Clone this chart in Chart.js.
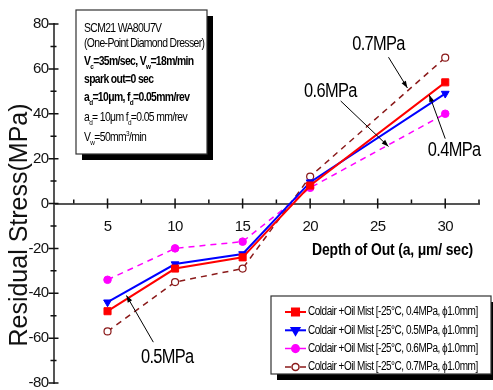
<!DOCTYPE html>
<html><head><meta charset="utf-8">
<script src="https://cdn.jsdelivr.net/npm/chart.js@4.4.1/dist/chart.umd.min.js"></script>
<style>html,body{margin:0;padding:0;background:#fff;overflow:hidden}#wrap{position:relative;width:493px;height:390px}</style>
</head><body><div id="wrap"><canvas id="chart" width="493" height="390"></canvas></div>
<script>
// ---- data ----
const depthOfCut = [5, 10, 15, 20, 30];
const stress04 = [-48, -29, -24, 8, 54];
const stress05 = [-44, -27, -22.5, 9.5, 49];
const stress06 = [-34, -20, -17, 7, 40];
const stress07 = [-57, -35, -29, 12, 65];
const seriesNames = [
  'Coldair +Oil Mist [-25°C, 0.4MPa, ϕ1.0mm]',
  'Coldair +Oil Mist [-25°C, 0.5MPa, ϕ1.0mm]',
  'Coldair +Oil Mist [-25°C, 0.6MPa, ϕ1.0mm]',
  'Coldair +Oil Mist [-25°C, 0.7MPa, ϕ1.0mm]'
];
const xTickValues = [2.5, 5, 7.5, 10, 12.5, 15, 17.5, 20, 22.5, 25, 27.5, 30, 32.5];
const xTickLabels = ['5', '10', '15', '20', '25', '30'];
const yTickValues = [-80, -70, -60, -50, -40, -30, -20, -10, 0, 10, 20, 30, 40, 50, 60, 70, 80];
const yTickLabels = ['-80', '-60', '-40', '-20', '0', '20', '40', '60', '80'];
const xTitle = 'Depth of Out (a, μm/ sec)';
const yTitle = 'Residual Stress(MPa)';
const infoLines = [
  { bold: false, text: 'SCM21 WA80U7V' },
  { bold: false, text: '(One-Point Diamond Dresser)' },
  { bold: true, text: 'V_{c}=35m/sec, V_{w}=18m/min' },
  { bold: true, text: 'spark out=0 sec' },
  { bold: true, text: 'a_{d}=10μm, f_{d}=0.05mm/rev' },
  { bold: false, text: 'a_{d}= 10μm f_{d}=0.05 mm/rev' },
  { bold: false, text: 'V_{w}=50mm^{3}/min' }
];
const pressureNotes = ['0.7MPa', '0.6MPa', '0.4MPa', '0.5MPa'];
// note anchor positions in data units: [textX, textY, arrowFromX, arrowFromY, arrowToX, arrowToY]
const noteAnchors = [
  [25.06, 70.9, 25.8, 65.2, 27.2, 51.5],
  [21.5, 50.1, 22.26, 45.7, 25.8, 25.4],
  [30.66, 23.6, 30.0, 28.9, 28.82, 48.4],
  [9.42, -68.5, 8.39, -61.8, 6.4, -41.0]
];

const SANS = '"Liberation Sans",Arial,sans-serif';

function pts(ys) { return depthOfCut.map((x, i) => ({ x: x, y: ys[i] })); }

function parseRich(s) {
  const out = []; const re = /([_^])\{([^}]*)\}/g; let last = 0, m;
  while ((m = re.exec(s))) {
    if (m.index > last) out.push({ t: s.slice(last, m.index) });
    out.push({ t: m[2], sub: m[1] === '_', sup: m[1] === '^' });
    last = re.lastIndex;
  }
  if (last < s.length) out.push({ t: s.slice(last) });
  return out;
}
function drawRich(ctx, x, y, s, size, bold, k) {
  ctx.save(); ctx.translate(x, y); ctx.scale(k, 1);
  let cx = 0;
  parseRich(s).forEach(p => {
    const fs = (p.sub || p.sup) ? size * 0.62 : size;
    ctx.font = (bold ? 'bold ' : '') + fs + 'px ' + SANS;
    const dy = p.sub ? size * 0.32 : (p.sup ? -size * 0.42 : 0);
    ctx.fillText(p.t, cx, dy);
    cx += ctx.measureText(p.t).width;
  });
  ctx.restore();
}
function condensed(ctx, text, x, y, k) {
  ctx.save(); ctx.translate(x, y); ctx.scale(k, 1); ctx.fillText(text, 0, 0); ctx.restore();
}
function arrow(ctx, x1, y1, x2, y2) {
  ctx.beginPath(); ctx.moveTo(x1, y1); ctx.lineTo(x2, y2); ctx.stroke();
  const a = Math.atan2(y2 - y1, x2 - x1), L = 7, W = 2.5;
  ctx.beginPath(); ctx.moveTo(x2, y2);
  ctx.lineTo(x2 - L * Math.cos(a) + W * Math.sin(a), y2 - L * Math.sin(a) - W * Math.cos(a));
  ctx.lineTo(x2 - L * Math.cos(a) - W * Math.sin(a), y2 - L * Math.sin(a) + W * Math.cos(a));
  ctx.closePath(); ctx.fill();
}
function shadowBox(ctx, x, y, w, h) {
  ctx.fillStyle = '#000'; ctx.fillRect(x + 6, y + 6, w, h);
  ctx.fillStyle = '#fff'; ctx.fillRect(x, y, w, h);
  ctx.strokeStyle = '#333'; ctx.lineWidth = 1.2; ctx.strokeRect(x, y, w, h);
}

const decor = {
  id: 'decor',
  beforeDraw(chart) { chart.ctx.letterSpacing = '-0.6px'; },
  afterDatasetsDraw(chart) {
    const { ctx, scales: { x, y }, chartArea } = chart;
    ctx.save();
    ctx.letterSpacing = '0px';
    // tick marks crossing the axes
    ctx.strokeStyle = '#111'; ctx.lineWidth = 1.5; ctx.beginPath();
    const y0 = y.getPixelForValue(0);
    x.ticks.forEach(t => {
      const px = x.getPixelForValue(t.value);
      const major = t.value % 5 === 0;
      ctx.moveTo(px, y0 - (major ? 5 : 4)); ctx.lineTo(px, y0 + (major ? 5 : 0));
    });
    const x0 = chartArea.left;
    y.ticks.forEach(t => {
      const py = y.getPixelForValue(t.value);
      const h = t.value % 20 === 0 ? 5 : 3;
      ctx.moveTo(x0 - h, py); ctx.lineTo(x0 + h, py);
    });
    ctx.stroke();
    // pressure notes with arrows
    ctx.fillStyle = '#000'; ctx.strokeStyle = '#000'; ctx.lineWidth = 1;
    ctx.font = '20px ' + SANS; ctx.textAlign = 'center'; ctx.textBaseline = 'middle';
    pressureNotes.forEach((n, i) => {
      const a = noteAnchors[i];
      ctx.letterSpacing = '-0.8px';
      condensed(ctx, n, x.getPixelForValue(a[0]), y.getPixelForValue(a[1]), 0.82);
      ctx.letterSpacing = '0px';
      arrow(ctx, x.getPixelForValue(a[2]), y.getPixelForValue(a[3]), x.getPixelForValue(a[4]), y.getPixelForValue(a[5]));
    });
    // axis titles
    ctx.letterSpacing = '-0.2px';
    ctx.font = 'bold 17px ' + SANS; ctx.textAlign = 'right';
    condensed(ctx, xTitle, 473, 250, 0.82);
    ctx.letterSpacing = '0px';
    ctx.save(); ctx.translate(20, 225); ctx.rotate(-Math.PI / 2);
    ctx.font = '25px ' + SANS; ctx.textAlign = 'center'; ctx.fillStyle = '#111';
    ctx.fillText(yTitle, 0, 0); ctx.restore();
    ctx.restore();
  },
  afterDraw(chart) {
    const ctx = chart.ctx;
    ctx.save();
    // info box
    shadowBox(ctx, 76, 10, 131, 144);
    ctx.fillStyle = '#000'; ctx.textAlign = 'left'; ctx.textBaseline = 'alphabetic';
    ctx.letterSpacing = '-0.8px';
    infoLines.forEach((l, i) => drawRich(ctx, 84, [32, 47, 65, 83, 101, 121, 141][i], l.text, 13, l.bold, 0.8));
    // legend box
    shadowBox(ctx, 271, 296, 220, 78);
    chart.data.datasets.forEach((ds, i) => {
      const cy = 312 + i * 18.3;
      ctx.letterSpacing = '0px';
      ctx.strokeStyle = ds.borderColor; ctx.lineWidth = ds.borderWidth; ctx.setLineDash([]);
      ctx.beginPath();
      if (ds.borderDash) { ctx.moveTo(285, cy); ctx.lineTo(291, cy); ctx.moveTo(300, cy); ctx.lineTo(306, cy); }
      else { ctx.moveTo(285, cy); ctx.lineTo(306, cy); }
      ctx.stroke();
      ctx.fillStyle = ds.pointBackgroundColor; ctx.strokeStyle = ds.borderColor;
      Chart.helpers.drawPoint(ctx, { pointStyle: ds.pointStyle, rotation: ds.pointRotation || 0, radius: ds.pointRadius, borderWidth: ds.pointBorderWidth }, 295.5, cy);
      ctx.fillStyle = '#000'; ctx.letterSpacing = '-0.6px';
      ctx.font = '12.5px ' + SANS; ctx.textBaseline = 'middle';
      condensed(ctx, ds.label, 308, cy, 0.8);
    });
    ctx.restore();
    ctx.letterSpacing = '0px';
  }
};

new Chart(document.getElementById('chart'), {
  type: 'line',
  data: {
    datasets: [
      { label: seriesNames[0], data: pts(stress04), borderColor: '#ff0000', backgroundColor: '#ff0000', pointBackgroundColor: '#ff0000', borderWidth: 2, pointStyle: 'rect', pointRadius: 5, pointBorderWidth: 1 },
      { label: seriesNames[1], data: pts(stress05), borderColor: '#0000ff', backgroundColor: '#0000ff', pointBackgroundColor: '#0000ff', borderWidth: 2, pointStyle: 'triangle', pointRotation: 180, pointRadius: 4.5, pointBorderWidth: 1 },
      { label: seriesNames[2], data: pts(stress06), borderColor: '#ff00ff', backgroundColor: '#ff00ff', pointBackgroundColor: '#ff00ff', borderWidth: 1.5, borderDash: [6, 5], pointStyle: 'circle', pointRadius: 3.8, pointBorderWidth: 1 },
      { label: seriesNames[3], data: pts(stress07), borderColor: '#8b1a1a', backgroundColor: '#ffffff', pointBackgroundColor: '#ffffff', borderWidth: 1.5, borderDash: [6, 5], pointStyle: 'circle', pointRadius: 3.5, pointBorderWidth: 1.2 }
    ]
  },
  options: {
    responsive: false, animation: false, devicePixelRatio: 1,
    layout: { padding: { left: 0, right: 12, top: 24, bottom: 7 } },
    plugins: { legend: { display: false }, tooltip: { enabled: false } },
    elements: { line: { tension: 0 } },
    scales: {
      x: {
        type: 'linear', position: { y: 0 }, min: 1, max: 32.5,
        afterBuildTicks: s => { s.ticks = xTickValues.map(v => ({ value: v })); },
        ticks: { autoSkip: false, maxRotation: 0, padding: 14, color: '#111', font: { family: SANS, size: 15 },
          callback: v => xTickLabels.includes(String(v)) ? String(v) : '' },
        grid: { display: true, drawOnChartArea: false, drawTicks: false },
        border: { display: true, color: '#555', width: 2 }
      },
      y: {
        type: 'linear', position: 'left', min: -80, max: 80,
        afterBuildTicks: s => { s.ticks = yTickValues.map(v => ({ value: v })); },
        afterFit: s => { s.width = 53.5; s.paddingTop = 0; s.paddingBottom = 0; },
        ticks: { autoSkip: false, padding: 5, color: '#111', font: { family: SANS, size: 15 },
          callback: v => yTickLabels.includes(String(v)) ? String(v) : '' },
        grid: { display: true, drawOnChartArea: false, drawTicks: false },
        border: { display: true, color: '#555', width: 2 }
      }
    }
  },
  plugins: [decor]
});
</script>
</body></html>
